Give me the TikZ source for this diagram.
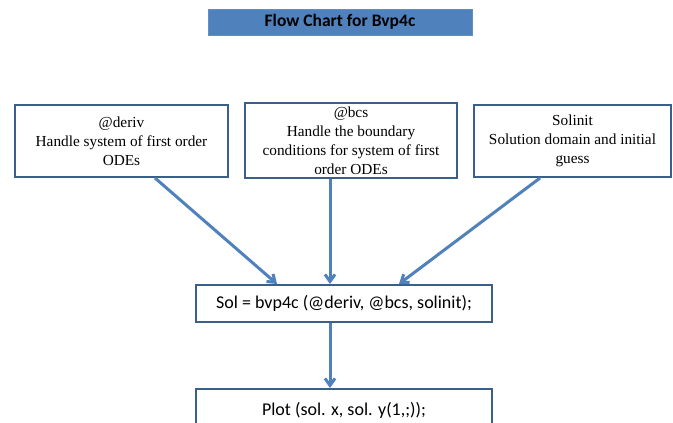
\documentclass[tikz,border=0pt]{standalone}
\usepackage{fontspec}
\setmainfont{Liberation Serif}
\newfontfamily\calibri{Carlito}
\usepackage{xcolor}
\definecolor{chartblue}{HTML}{4F81BD}
\definecolor{edgeblue}{HTML}{3A5F8B}
\usetikzlibrary{positioning,arrows.meta}
\tikzset{
  titlebox/.style={rectangle, draw=chartblue!90!white, fill=chartblue, minimum width=264pt,
                   minimum height=26pt, font=\calibri\bfseries\fontsize{17.5}{20}\selectfont},
  inbox/.style   ={rectangle, draw=edgeblue, line width=2pt, fill=white, align=center,
                   minimum height=72pt, font=\fontsize{15.3}{19}\selectfont},
  callbox/.style ={rectangle, draw=edgeblue, line width=2pt, fill=white, align=center,
                   minimum width=296pt, font=\calibri\fontsize{18}{21}\selectfont},
  arr/.style     ={-{Straight Barb[length=7pt,width=10pt]}, line width=3pt, draw=chartblue},
}

\begin{document}
\begin{tikzpicture}[x=1pt, y=-1pt]
  \clip (0,0) rectangle (673,423);
  \fill[white] (0,0) rectangle (673,423);
  \node[titlebox] (title) at (340,22) {Flow Chart for Bvp4c};
  \node[inbox, minimum width=213pt] (deriv) at (121.5,141) {@deriv\\Handle system of first order\\ODEs};
  \node[inbox, minimum width=212pt, minimum height=73pt] (bcs) at (351,140.5) {@bcs\\Handle the boundary\\conditions for system of first\\order ODEs};
  \node[inbox, minimum width=197pt] (init) at (572.5,141) {Solinit\\Solution domain and initial\\guess};
  \node[callbox, minimum height=37pt] (solve) at (344,303.5) {Sol = bvp4c (@deriv, @bcs, solinit);};
  \node[callbox, minimum height=44pt] (plot) at (344,411) {\raisebox{5pt}{Plot (sol. x, sol. y(1,;));}};
  \coordinate (d1) at (deriv.south -| 155,0);
  \coordinate (s1) at (solve.north -| 277,0);
  \coordinate (b1) at (bcs.south -| 330,0);
  \coordinate (s2) at (solve.north -| 330,0);
  \coordinate (i1) at (init.south -| 540,0);
  \coordinate (s3) at (solve.north -| 399,0);
  \coordinate (s4) at (solve.south -| 330,0);
  \coordinate (p1) at (plot.north -| 330,0);
  \draw[arr] (d1) -- (s1);
  \draw[arr] (b1) -- (s2);
  \draw[arr] (i1) -- (s3);
  \draw[arr] (s4) -- (p1);
\end{tikzpicture}
\end{document}
